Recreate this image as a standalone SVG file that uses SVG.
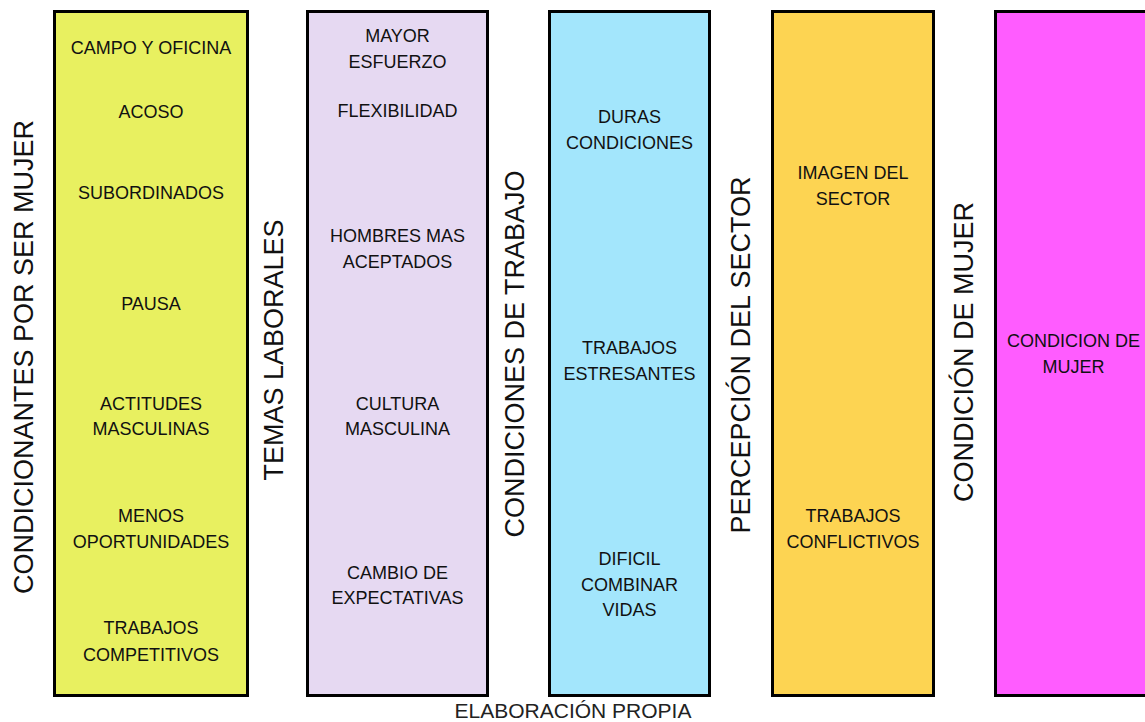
<svg xmlns="http://www.w3.org/2000/svg" width="1145" height="722" viewBox="0 0 1145 722">
  <style>
    .col { stroke: #000; stroke-width: 3; }
    .item { font-family: "Liberation Sans", Arial, sans-serif; font-size: 18px; fill: #111; text-anchor: middle; }
    .title { font-family: "Liberation Sans", Arial, sans-serif; font-size: 27px; fill: #111; text-anchor: middle; }
    .note { font-family: "Liberation Sans", Arial, sans-serif; font-size: 21px; fill: #222; text-anchor: middle; }
  </style>
  <rect width="1145" height="722" fill="#fff"/>

  <!-- Column 1: conditioning factors -->
  <g id="condicionantes">
    <text class="title" transform="translate(33,357) rotate(-90)">CONDICIONANTES POR SER MUJER</text>
    <rect class="col" x="54.5" y="11.5" width="193" height="684" fill="#e8f060"/>
    <text class="item" x="151" y="54">CAMPO Y OFICINA</text>
    <text class="item" x="151" y="118">ACOSO</text>
    <text class="item" x="151" y="199">SUBORDINADOS</text>
    <text class="item" x="151" y="310">PAUSA</text>
    <text class="item" x="151" y="410">ACTITUDES</text>
    <text class="item" x="151" y="435">MASCULINAS</text>
    <text class="item" x="151" y="522">MENOS</text>
    <text class="item" x="151" y="548">OPORTUNIDADES</text>
    <text class="item" x="151" y="634">TRABAJOS</text>
    <text class="item" x="151" y="661">COMPETITIVOS</text>
  </g>

  <!-- Column 2: labour topics -->
  <g id="temas-laborales">
    <text class="title" transform="translate(283,350) rotate(-90)">TEMAS LABORALES</text>
    <rect class="col" x="307.5" y="11.5" width="180" height="684" fill="#e6d9f2"/>
    <text class="item" x="397.5" y="42">MAYOR</text>
    <text class="item" x="397.5" y="68">ESFUERZO</text>
    <text class="item" x="397.5" y="117">FLEXIBILIDAD</text>
    <text class="item" x="397.5" y="242">HOMBRES MAS</text>
    <text class="item" x="397.5" y="268">ACEPTADOS</text>
    <text class="item" x="397.5" y="410">CULTURA</text>
    <text class="item" x="397.5" y="435">MASCULINA</text>
    <text class="item" x="397.5" y="579">CAMBIO DE</text>
    <text class="item" x="397.5" y="604">EXPECTATIVAS</text>
  </g>

  <!-- Column 3: working conditions -->
  <g id="condiciones-trabajo">
    <text class="title" transform="translate(524,354) rotate(-90)">CONDICIONES DE TRABAJO</text>
    <rect class="col" x="549.5" y="11.5" width="160" height="684" fill="#a3e6fc"/>
    <text class="item" x="629.5" y="123">DURAS</text>
    <text class="item" x="629.5" y="149">CONDICIONES</text>
    <text class="item" x="629.5" y="354">TRABAJOS</text>
    <text class="item" x="629.5" y="380">ESTRESANTES</text>
    <text class="item" x="629.5" y="565">DIFICIL</text>
    <text class="item" x="629.5" y="591">COMBINAR</text>
    <text class="item" x="629.5" y="616">VIDAS</text>
  </g>

  <!-- Column 4: sector perception -->
  <g id="percepcion-sector">
    <text class="title" transform="translate(750,355) rotate(-90)">PERCEPCIÓN DEL SECTOR</text>
    <rect class="col" x="772.5" y="11.5" width="161" height="684" fill="#fdd452"/>
    <text class="item" x="853" y="179">IMAGEN DEL</text>
    <text class="item" x="853" y="205">SECTOR</text>
    <text class="item" x="853" y="522">TRABAJOS</text>
    <text class="item" x="853" y="548">CONFLICTIVOS</text>
  </g>

  <!-- Column 5: condition of women -->
  <g id="condicion-mujer">
    <text class="title" transform="translate(973,352) rotate(-90)">CONDICIÓN DE MUJER</text>
    <rect class="col" x="995.5" y="11.5" width="200" height="684" fill="#ff5cff"/>
    <text class="item" x="1073.5" y="347">CONDICION DE</text>
    <text class="item" x="1073.5" y="373">MUJER</text>
  </g>

  <g id="connectors"/>

  <text class="note" x="573" y="718">ELABORACIÓN PROPIA</text>
</svg>
